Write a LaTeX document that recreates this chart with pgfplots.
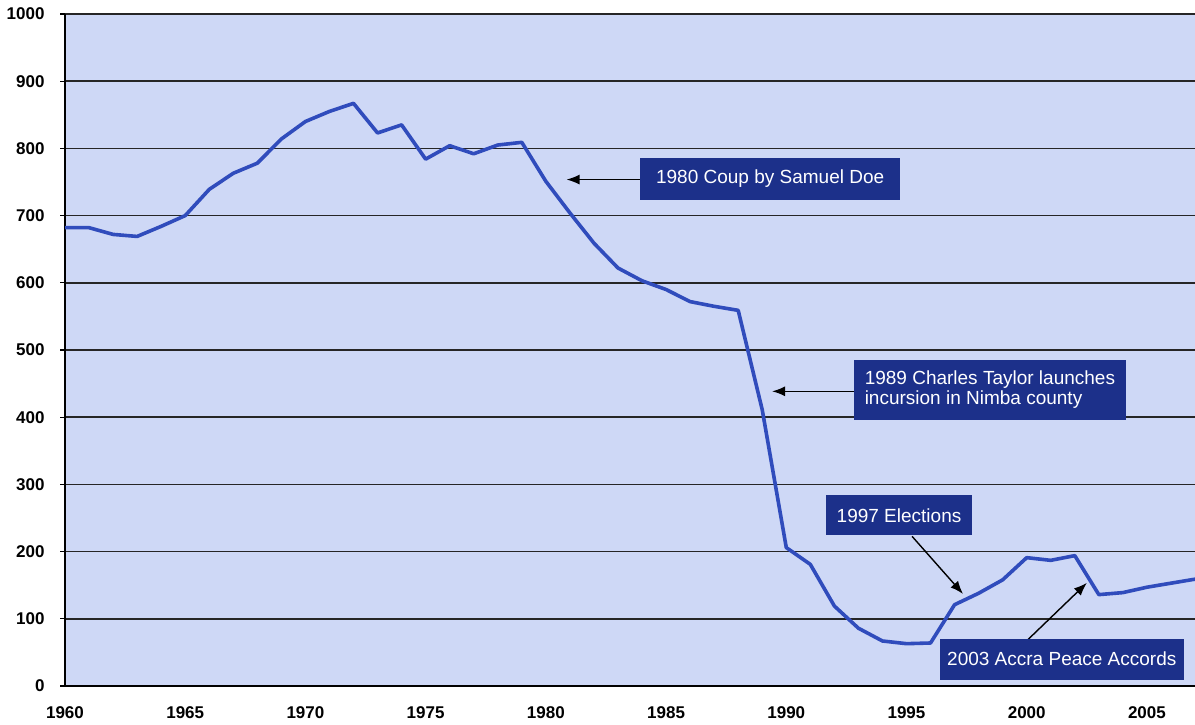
\documentclass[border=0pt]{standalone}
\usepackage{pgfplots}
\pgfplotsset{compat=1.18}
\usepackage{fontspec}
\setmainfont{Liberation Sans}
\usetikzlibrary{arrows.meta}
\definecolor{bgblue}{RGB}{206,216,246}
\definecolor{lineblue}{RGB}{48,76,188}
\definecolor{boxblue}{RGB}{28,48,138}
\tikzset{
  box/.style={fill=boxblue, text=white, font=\fontsize{19}{20}\selectfont, inner sep=0pt, align=center},
  arr/.style={black, line width=1.4pt, -{Latex[length=13pt,width=10pt]}},
}
\begin{document}
\begin{tikzpicture}
\begin{axis}[
  scale only axis, width=1130pt, height=672pt,
  xmin=1960, xmax=2007, ymin=0, ymax=1000,
  axis lines*=left, axis line style={black, line width=1.4pt, -},
  axis background/.style={fill=bgblue},
  xtick={1960,1965,...,2005}, ytick={0,100,...,1000},
  ymajorgrids, grid style={black!85, line width=1.5pt},
  xtick style={draw=none},
  ytick style={black, line width=1.2pt}, tick align=outside, major tick length=5pt,
  ticklabel style={font=\bfseries\fontsize{17}{18}\selectfont},
  /pgf/number format/assume math mode=true,
  /pgf/number format/set thousands separator={},
  xticklabel style={yshift=-12pt},
  yticklabel style={xshift=-12pt},
  clip=false,
]
\addplot[lineblue, line width=3.6pt, line join=round] table {
x y
1960 682
1961 682
1962 672
1963 669
1964 684
1965 700
1966 739
1967 763
1968 778
1969 814
1970 840
1971 855
1972 867
1973 823
1974 835
1975 784
1976 804
1977 792
1978 805
1979 809
1980 751
1981 704
1982 659
1983 622
1984 603
1985 590
1986 572
1987 565
1988 559
1989 411
1990 206
1991 181
1992 119
1993 86
1994 67
1995 63
1996 64
1997 121
1998 138
1999 158
2000 191
2001 187
2002 194
2003 136
2004 139
2005 147
2006 153
2007 159
};
\draw[arr] (axis cs:1986.93,753.6) -- (axis cs:1980.86,753.6);
\draw[arr] (axis cs:1992.82,438.5) -- (axis cs:1989.41,438.5);
\draw[arr] (axis cs:1995.23,222.8) -- (axis cs:1997.35,137);
\draw[arr] (axis cs:2000.05,69) -- (axis cs:2002.5,153.4);
\node[box, minimum width=260pt, minimum height=42pt] at (axis cs:1989.33,755.1) {1980 Coup by Samuel Doe};
\node[box, minimum width=272pt, minimum height=60pt, align=left] at (axis cs:1998.47,441.1) {1989 Charles Taylor launches\\incursion in Nimba county};
\node[box, minimum width=146pt, minimum height=40pt] at (axis cs:1994.69,254) {1997 Elections};
\node[box, minimum width=244pt, minimum height=41pt] at (axis cs:2001.46,40) {2003 Accra Peace Accords};
\end{axis}
\pgfresetboundingbox
\path[use as bounding box] ([xshift=-65pt,yshift=-38pt]current axis.south west) rectangle ([yshift=14pt]current axis.north east);
\end{tikzpicture}
\end{document}
